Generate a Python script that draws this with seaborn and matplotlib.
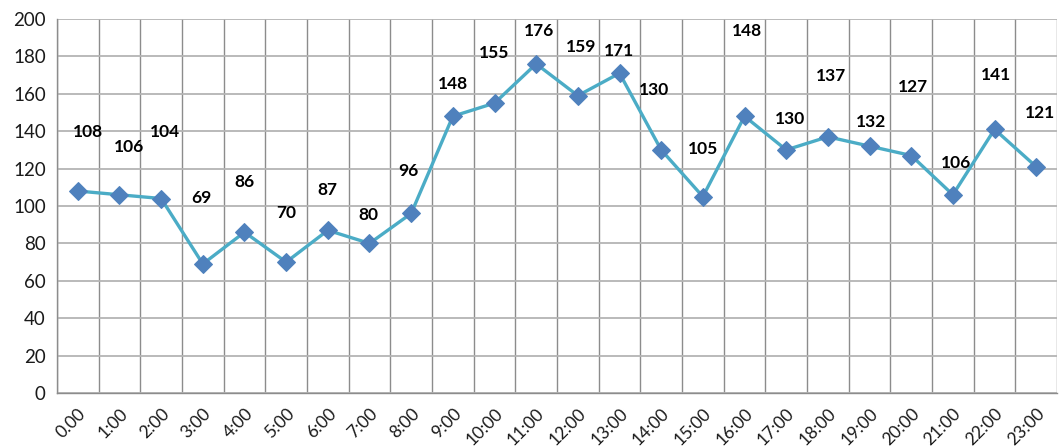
import matplotlib
matplotlib.use("Agg")
import matplotlib.pyplot as plt
from matplotlib.ticker import MultipleLocator, FixedLocator
import seaborn as sns
import pandas as pd
import numpy as np

hours = [f"{h}:00" for h in range(24)]
hours[0] = "0.00"
counts = [108, 106, 104, 69, 86, 70, 87, 80, 96, 148, 155, 176,
          159, 171, 130, 105, 148, 130, 137, 132, 127, 106, 141, 121]

# where each value label sits (data units) and its small sideways nudge (points)
label_y = [139.6, 131.6, 139.6, 104.3, 112.8, 96.3, 108.6, 95.2, 118.7, 165.2,
           182.0, 193.6, 185.0, 183.0, 162.0, 130.5, 193.6, 146.5, 169.5, 145.0,
           163.6, 123.0, 170.0, 149.7]
label_dx = [7, 7, 3, -1, 0, 0, 0, -1, -2, 0, 0, 2,
            2, 0, -5, 0, 2, 3, 2, 1, 1, 2, 1, 3]

sns.set_theme(style="white")
plt.rcParams["font.family"] = ["Lato", "DejaVu Sans"]

df = pd.DataFrame({"pos": np.arange(len(hours)), "count": counts})

fig = plt.figure(figsize=(10.63, 4.48), dpi=100)
ax = fig.add_axes([0.0536, 0.1228, 0.9408, 0.8348])

sns.lineplot(data=df, x="pos", y="count", ax=ax, color="#4BACC6", linewidth=2.4,
             marker="D", markersize=9, markerfacecolor="#4F81BD",
             markeredgecolor="#4F81BD", zorder=3)

for i, (v, ly, dx) in enumerate(zip(counts, label_y, label_dx)):
    ax.annotate(str(v), xy=(i, ly), xytext=(dx, 0), textcoords="offset points",
                ha="center", va="center", fontsize=12.5, fontweight="bold",
                color="black", zorder=4)

ax.set_xlim(-0.5, len(hours) - 0.5)
ax.set_ylim(0, 200)
ax.yaxis.set_major_locator(MultipleLocator(20))

ax.xaxis.set_major_locator(FixedLocator(np.arange(len(hours))))
ax.set_xticklabels(hours, rotation=45, ha="right", rotation_mode="anchor",
                   fontsize=12.5, color="#1a1a1a")
ax.xaxis.set_minor_locator(FixedLocator(np.arange(len(hours) + 1) - 0.5))
ax.tick_params(axis="x", which="major", length=0, pad=9)
ax.tick_params(axis="x", which="minor", length=5, color="#8c8c8c", width=1)
ax.tick_params(axis="y", which="major", length=5, color="#8c8c8c", width=1,
               labelsize=13.5, labelcolor="#1a1a1a", pad=3)

ax.grid(False)
ax.grid(axis="y", which="major", color="#b4b4b4", linewidth=1.3)
ax.grid(axis="x", which="minor", color="#8c8c8c", linewidth=1.0)

for side in ["left", "bottom"]:
    ax.spines[side].set_color("#8c8c8c")
    ax.spines[side].set_linewidth(1.0)
for side in ["top", "right"]:
    ax.spines[side].set_visible(False)

ax.set_xlabel("")
ax.set_ylabel("")

fig.savefig("out.png", dpi=100)
